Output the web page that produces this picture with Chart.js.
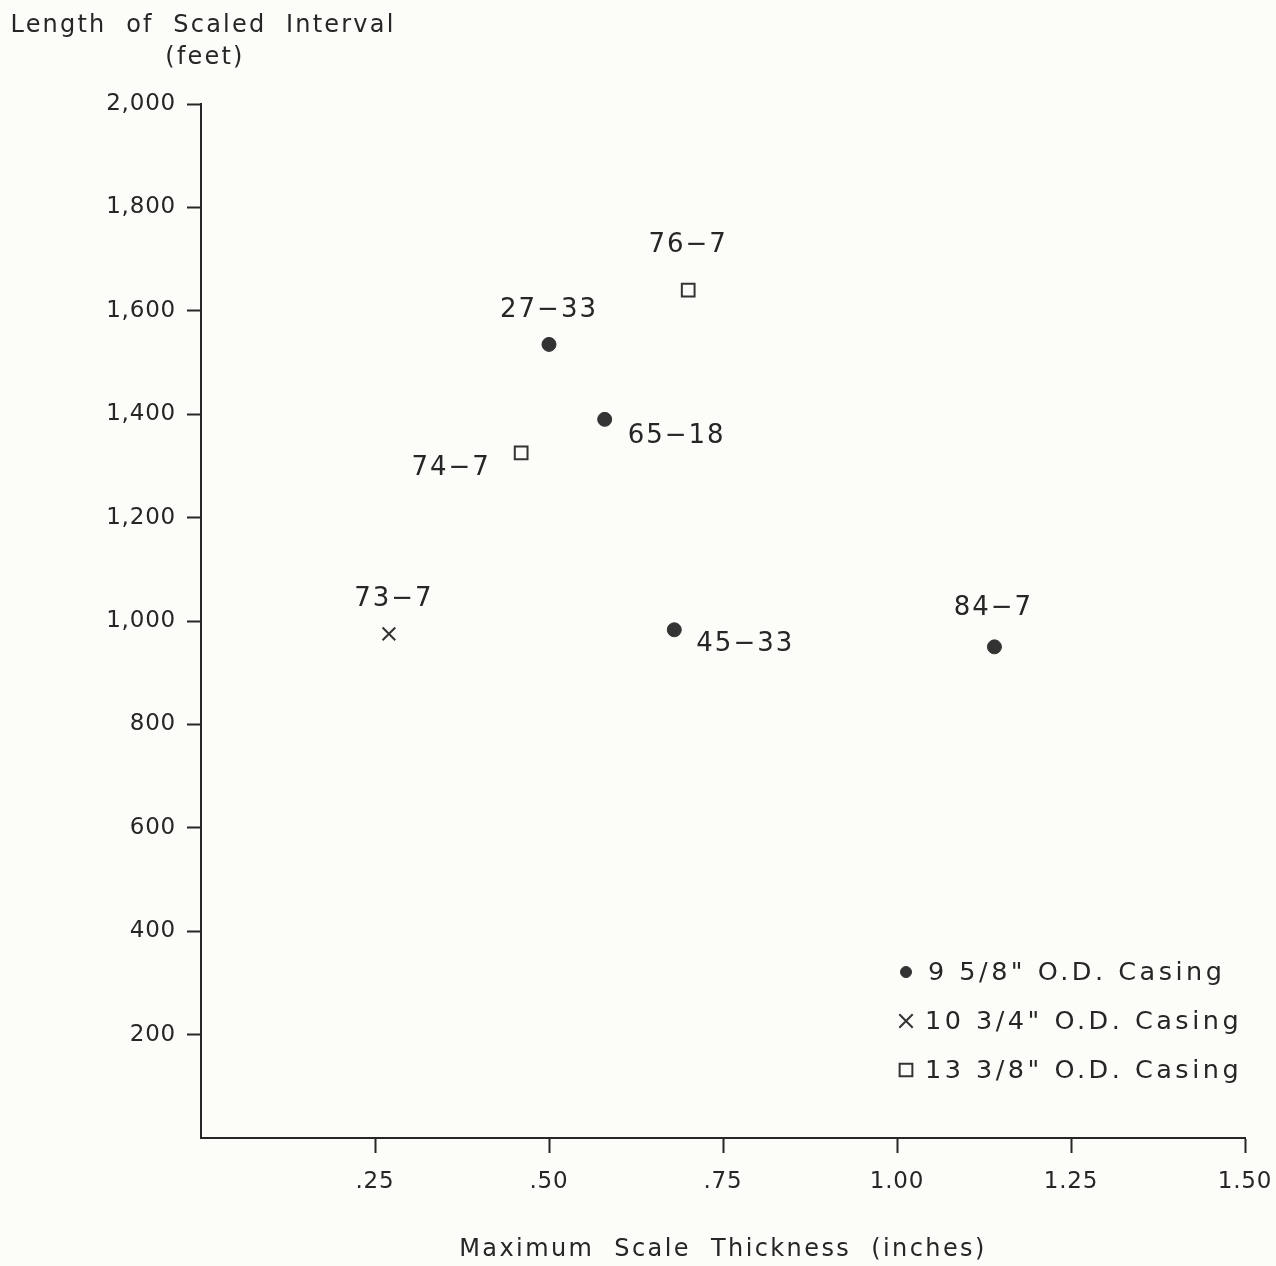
<!DOCTYPE html>
<html>
<head>
<meta charset="utf-8">
<script src="https://cdn.jsdelivr.net/npm/chart.js@4.4.1/dist/chart.umd.min.js"></script>
<style>
  html, body { margin: 0; padding: 0; background: #fcfcf9; }
  #wrap { width: 1276px; height: 1266px; position: relative; }
</style>
</head>
<body>
<div id="wrap"><canvas id="c"></canvas></div>
<script>
// ---- data ----
const xTicks = [0.25, 0.50, 0.75, 1.00, 1.25, 1.50];
const yTicks = [200, 400, 600, 800, 1000, 1200, 1400, 1600, 1800, 2000];

const casing958Ids = ['27−33', '65−18', '45−33', '84−7'];
const casing958X   = [0.50, 0.58, 0.68, 1.14];
const casing958Y   = [1535, 1390, 983, 950];

const casing1034Ids = ['73−7'];
const casing1034X   = [0.27];
const casing1034Y   = [975];

const casing1338Ids = ['74−7', '76−7'];
const casing1338X   = [0.46, 0.70];
const casing1338Y   = [1325, 1640];

const seriesNames = ['9 5/8" O.D. Casing', '10 3/4" O.D. Casing', '13 3/8" O.D. Casing'];

// label placement (text centre offset from the point, in px)
const labelOffsets = {
  '27−33': [0, -36], '76−7': [0, -47], '65−18': [72, 15], '74−7': [-70, 13],
  '73−7': [5, -37], '45−33': [71, 12], '84−7': [-1, -41]
};

const INK = '#262626';
const FONT = '"DejaVu Sans", sans-serif';

function pts(xs, ys, ids) { return xs.map((x, i) => ({ x: x, y: ys[i], id: ids[i] })); }

const bgPlugin = {
  id: 'bg',
  beforeDraw(chart) {
    const ctx = chart.ctx;
    ctx.save();
    ctx.fillStyle = '#fcfcf9';
    ctx.fillRect(0, 0, chart.width, chart.height);
    ctx.restore();
    ctx.letterSpacing = '0.8px';
  }
};

const annotPlugin = {
  id: 'annot',
  afterDraw(chart) {
    const ctx = chart.ctx;
    const xs = chart.scales.x, ys = chart.scales.y;
    ctx.save();
    ctx.fillStyle = INK;
    ctx.textAlign = 'center';
    ctx.textBaseline = 'middle';
    // axis titles
    ctx.letterSpacing = '2.2px';
    ctx.font = '24px ' + FONT;
    ctx.fillText('Length  of  Scaled  Interval', 203, 26);
    ctx.fillText('(feet)', 205, 58);
    ctx.letterSpacing = '2.4px';
    ctx.fillText('Maximum  Scale  Thickness  (inches)', (xs.left + xs.right) / 2, 1250);
    // point labels
    ctx.letterSpacing = '2px';
    ctx.font = '26px ' + FONT;
    chart.data.datasets.forEach(ds => {
      ds.data.forEach(p => {
        const off = labelOffsets[p.id] || [0, -36];
        ctx.fillText(p.id, xs.getPixelForValue(p.x) + off[0], ys.getPixelForValue(p.y) + off[1] + 2);
      });
    });
    // legend
    ctx.textAlign = 'left';
    ctx.letterSpacing = '3.5px';
    ctx.font = '25.5px ' + FONT;
    const lx = 906, ly0 = 972, dy = 49;
    chart.data.datasets.forEach((ds, i) => {
      const y = ly0 + i * dy;
      ctx.save();
      ctx.fillStyle = ds.pointBackgroundColor;
      ctx.strokeStyle = ds.pointBorderColor;
      ctx.lineWidth = ds.pointBorderWidth;
      Chart.helpers.drawPoint(ctx, { pointStyle: ds.pointStyle, radius: ds.legendRadius, rotation: 0, borderWidth: ds.pointBorderWidth }, lx, y);
      ctx.restore();
      ctx.fillText(seriesNames[i], i === 0 ? 928 : 925, y + 1);
    });
    ctx.restore();
  }
};

const hideZero = (ctx) => (ctx.tick && ctx.tick.value === 0) ? 'rgba(0,0,0,0)' : INK;

new Chart(document.getElementById('c'), {
  type: 'scatter',
  data: {
    datasets: [
      { label: seriesNames[0], data: pts(casing958X, casing958Y, casing958Ids),
        pointStyle: 'circle', pointRadius: 7, legendRadius: 5.5, pointBackgroundColor: '#333', pointBorderColor: '#333', pointBorderWidth: 1 },
      { label: seriesNames[1], data: pts(casing1034X, casing1034Y, casing1034Ids),
        pointStyle: 'crossRot', pointRadius: 9, legendRadius: 9.5, pointBackgroundColor: 'rgba(0,0,0,0)', pointBorderColor: '#333', pointBorderWidth: 2 },
      { label: seriesNames[2], data: pts(casing1338X, casing1338Y, casing1338Ids),
        pointStyle: 'rect', pointRadius: 9, legendRadius: 9, pointBackgroundColor: 'rgba(0,0,0,0)', pointBorderColor: '#333', pointBorderWidth: 2 }
    ]
  },
  options: {
    responsive: true,
    maintainAspectRatio: false,
    animation: false,
    devicePixelRatio: 1,
    layout: { padding: { left: 0, top: 104, right: 31, bottom: 0 } },
    plugins: { legend: { display: false }, tooltip: { enabled: false } },
    elements: { point: { hoverRadius: 7 } },
    scales: {
      x: {
        type: 'linear', min: 0, max: 1.5,
        afterBuildTicks: s => { s.ticks = [0].concat(xTicks).map(v => ({ value: v })); },
        afterFit: s => { s.height = 128; s.paddingLeft = 0; s.paddingRight = 0; },
        border: { display: true, color: INK, width: 2 },
        grid: { drawOnChartArea: false, drawTicks: true, tickLength: 15, tickWidth: 2, tickColor: hideZero, color: INK },
        ticks: {
          color: INK, padding: 15, maxRotation: 0, autoSkip: false,
          font: { family: FONT, size: 23 },
          callback: v => v === 0 ? '' : (v < 1 ? v.toFixed(2).slice(1) : v.toFixed(2))
        }
      },
      y: {
        type: 'linear', min: 0, max: 2000,
        afterBuildTicks: s => { s.ticks = [0].concat(yTicks).map(v => ({ value: v })); },
        afterFit: s => { s.width = 201; s.paddingTop = 0; s.paddingBottom = 0; },
        border: { display: true, color: INK, width: 2 },
        grid: { drawOnChartArea: false, drawTicks: true, tickLength: 14, tickWidth: 2, tickColor: hideZero, color: INK },
        ticks: {
          color: INK, padding: 11, autoSkip: false,
          font: { family: FONT, size: 23 },
          callback: v => v === 0 ? '' : v.toLocaleString('en-US')
        }
      }
    }
  },
  plugins: [bgPlugin, annotPlugin]
});
</script>
</body>
</html>
